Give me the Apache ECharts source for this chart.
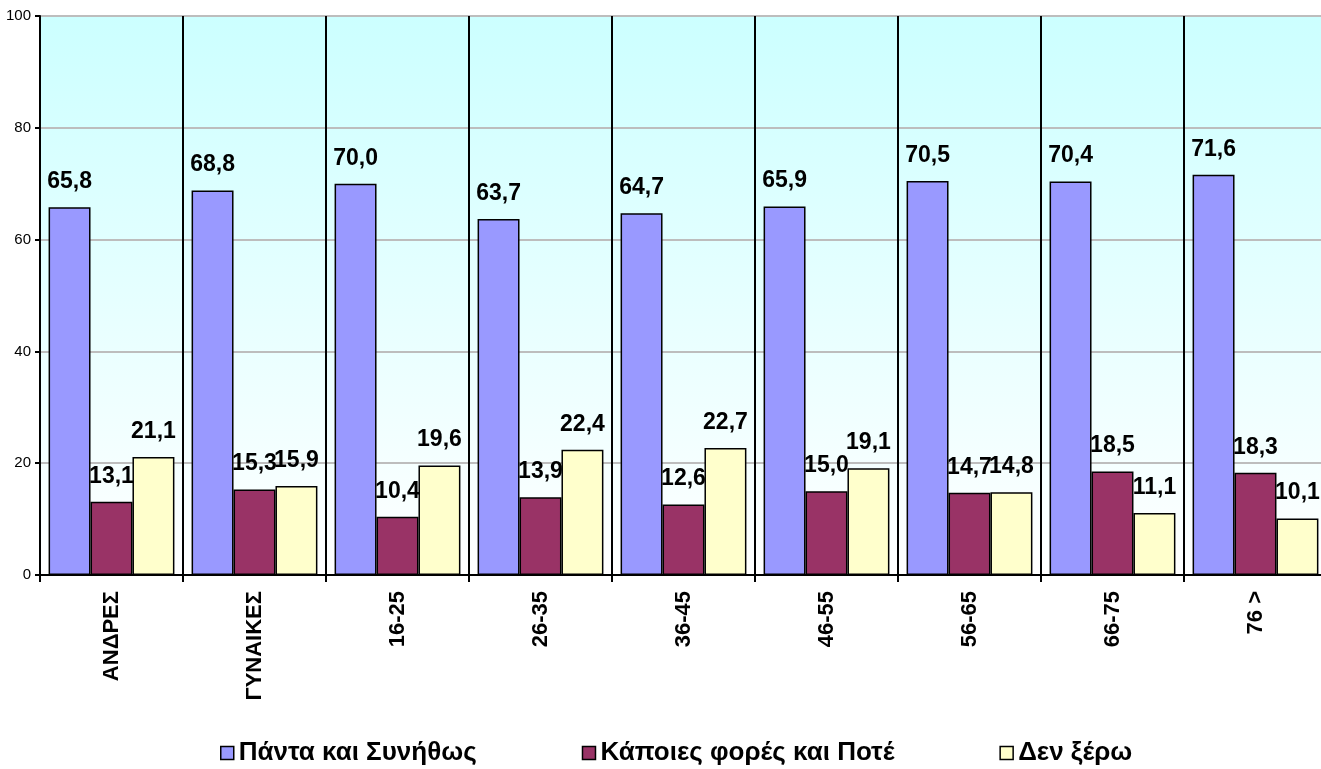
<!DOCTYPE html>
<html>
<head>
<meta charset="utf-8">
<script src="https://cdn.jsdelivr.net/npm/echarts@6/dist/echarts.min.js"></script>
<style>
html, body { margin: 0; padding: 0; background: #fff; }
#chart { width: 1321px; height: 769px; }
</style>
</head>
<body>
<div id="chart"></div>
<script>
// κατηγορίες
var categories = ['ΑΝΔΡΕΣ', 'ΓΥΝΑΙΚΕΣ', '16-25', '26-35', '36-45', '46-55', '56-65', '66-75', '76 >'];
// σειρές
var seriesNames = ['Πάντα και Συνήθως', 'Κάποιες φορές και Ποτέ', 'Δεν ξέρω'];
var panta = [65.8, 68.8, 70.0, 63.7, 64.7, 65.9, 70.5, 70.4, 71.6];
var kapoies = [13.1, 15.3, 10.4, 13.9, 12.6, 15.0, 14.7, 18.5, 18.3];
var denXero = [21.1, 15.9, 19.6, 22.4, 22.7, 19.1, 14.8, 11.1, 10.1];
var colors = ['#9999ff', '#993366', '#ffffcc'];

var chart = echarts.init(document.getElementById('chart'));
var fontName = '"Liberation Sans", Arial, sans-serif';

//μορφή ετικέτας με κόμμα
function fmt(p) {
    return p.value.toFixed(1).replace('.', ',');
}

function makeSeries(name, data, color) {
    return {
        name: name,
        type: 'bar',
        data: data,
        barGap: 0,
        barCategoryGap: '12%',
        itemStyle: { color: color, borderColor: '#000', borderWidth: 1.5 },
        label: {
            show: true,
            position: 'top',
            distance: 14,
            formatter: fmt,
            color: '#000',
            fontWeight: 'bold',
            fontSize: 23,
            fontFamily: fontName
        }
    };
}

var option = {
    animation: false,
    grid: {
        left: 40,
        right: -6,
        top: 16,
        bottom: 194,
        outerBoundsMode: 'none',
        show: true,
        borderWidth: 0,
        backgroundColor: new echarts.graphic.LinearGradient(0, 0, 0, 1, [
            { offset: 0, color: '#ccffff' },
            { offset: 1, color: '#ffffff' }
        ])
    },
    legend: {
        left: 215,
        top: 735,
        itemWidth: 13,
        itemHeight: 13,
        itemGap: 105,
        icon: 'rect',
        itemStyle: { borderColor: '#000', borderWidth: 1.5 },
        textStyle: { fontSize: 26, fontWeight: 'bold', color: '#000', fontFamily: fontName },
        data: seriesNames
    },
    xAxis: {
        type: 'category',
        data: categories,
        axisLine: { lineStyle: { color: '#000', width: 2 } },
        axisTick: { show: true, length: 7, lineStyle: { color: '#000', width: 2 } },
        splitLine: { show: true, interval: 0, lineStyle: { color: '#000', width: 2 } },
        axisLabel: {
            interval: 0,
            rotate: 90,
            margin: 16,
            color: '#000',
            fontWeight: 'bold',
            fontSize: 22,
            fontFamily: fontName
        }
    },
    yAxis: {
        type: 'value',
        min: 0,
        max: 100,
        interval: 20,
        axisLine: { show: true, lineStyle: { color: '#000', width: 2 } },
        axisTick: { show: true, length: 5, lineStyle: { color: '#000', width: 2 } },
        splitLine: { lineStyle: { color: '#bdbdbd', width: 2 } },
        axisLabel: { color: '#000', fontSize: 15, margin: 9, fontFamily: fontName }
    },
    series: [
        makeSeries(seriesNames[0], panta, colors[0]),
        makeSeries(seriesNames[1], kapoies, colors[1]),
        makeSeries(seriesNames[2], denXero, colors[2])
    ]
};

chart.setOption(option);
</script>
</body>
</html>
